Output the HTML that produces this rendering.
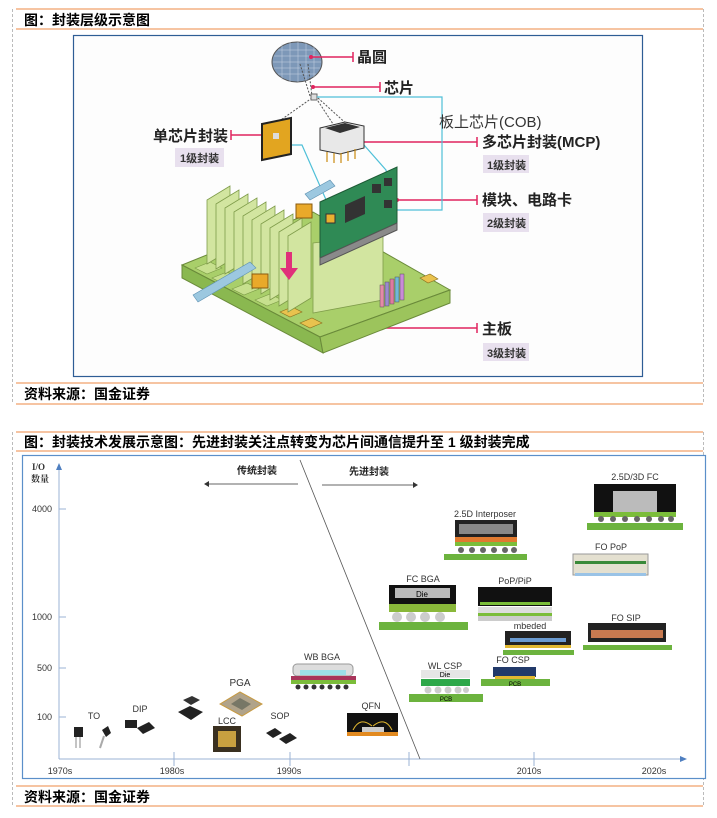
<!DOCTYPE html>
<html><head><meta charset="utf-8"><style>
html,body{margin:0;padding:0;background:#fff;}
svg{display:block;}
text{font-family:"Liberation Sans","Noto Sans CJK SC",sans-serif;}
.t{font-weight:bold;font-size:14px;fill:#000;}
.s{font-family:"Liberation Serif","Noto Serif CJK SC",serif;font-size:9px;fill:#333;}
.lb{font-weight:bold;font-size:15px;fill:#222;}
.bd{font-weight:bold;font-size:11px;fill:#333;}
</style></head><body>
<svg width="717" height="818" viewBox="0 0 717 818" xmlns="http://www.w3.org/2000/svg">
<!-- frame 1 -->
<line x1="12.5" y1="9" x2="12.5" y2="404" stroke="#bbb" stroke-dasharray="3,2"/>
<line x1="703.5" y1="9" x2="703.5" y2="404" stroke="#bbb" stroke-dasharray="3,2"/>
<line x1="16" y1="9" x2="703" y2="9" stroke="#f4b183" stroke-width="1.5"/>
<line x1="16" y1="29" x2="703" y2="29" stroke="#f4b183" stroke-width="1.5"/>
<text x="24" y="25" class="t">图：封装层级示意图</text>
<rect x="73.5" y="35.5" width="569" height="341" fill="#fdfdfd" stroke="#2e5d95" stroke-width="1.2"/>
<line x1="16" y1="383" x2="703" y2="383" stroke="#f4b183" stroke-width="1.5"/>
<line x1="16" y1="404" x2="703" y2="404" stroke="#f4b183" stroke-width="1.5"/>
<text x="24" y="399" class="t">资料来源：国金证券</text>

<!-- wafer -->
<ellipse cx="297" cy="62" rx="25" ry="20" fill="#7d98b8" stroke="#555"/>
<g stroke="#c8d4e4" stroke-width="0.5">
<line x1="278" y1="50" x2="316" y2="50"/><line x1="274" y1="56" x2="320" y2="56"/><line x1="273" y1="62" x2="321" y2="62"/><line x1="274" y1="68" x2="320" y2="68"/><line x1="278" y1="74" x2="316" y2="74"/>
<line x1="282" y1="44" x2="282" y2="80"/><line x1="290" y1="42" x2="290" y2="82"/><line x1="298" y1="42" x2="298" y2="82"/><line x1="306" y1="42" x2="306" y2="82"/><line x1="314" y1="46" x2="314" y2="78"/>
</g>
<g stroke="#e0245e" stroke-width="1.5" fill="none">
<line x1="311" y1="57" x2="353" y2="57"/><line x1="353" y1="52" x2="353" y2="62"/>
<line x1="313" y1="87" x2="380" y2="87"/><line x1="380" y1="82" x2="380" y2="92"/>
<line x1="231" y1="135" x2="264" y2="135"/><line x1="231" y1="130" x2="231" y2="140"/>
<line x1="360" y1="142" x2="477" y2="142"/><line x1="477" y1="137" x2="477" y2="147"/>
<line x1="397" y1="200" x2="477" y2="200"/><line x1="477" y1="195" x2="477" y2="205"/>
<line x1="364" y1="328" x2="477" y2="328"/><line x1="477" y1="323" x2="477" y2="333"/>
</g>
<g fill="#e0245e"><circle cx="311" cy="57" r="2"/><circle cx="313" cy="87" r="2"/><circle cx="360" cy="142" r="2"/><circle cx="397" cy="200" r="2"/><circle cx="364" cy="328" r="2"/></g>
<g stroke="#555" stroke-dasharray="2,1.5" fill="none">
<line x1="308" y1="64" x2="312" y2="96"/><line x1="300" y1="64" x2="310" y2="96"/>
<line x1="312" y1="98" x2="278" y2="122"/><line x1="316" y1="98" x2="335" y2="127"/><line x1="318" y1="98" x2="350" y2="127"/>
</g>
<rect x="311" y="94" width="6" height="6" fill="#ddd" stroke="#666"/>
<polyline points="317,97 442,97 442,210 397,210" fill="none" stroke="#4fc0d8" stroke-width="1.2"/>
<polyline points="289,145 302,145 327,202" fill="none" stroke="#4fc0d8" stroke-width="1.2"/>
<polyline points="364,145 386,170 388,180" fill="none" stroke="#4fc0d8" stroke-width="1.2"/>

<!-- motherboard -->
<polygon points="182,265 313,212 450,290 320,337" fill="#a9cf6a" stroke="#6a8a3a"/>
<polygon points="182,265 320,337 323,353 182,278" fill="#8ab850" stroke="#6a8a3a"/>
<polygon points="320,337 450,290 450,303 323,353" fill="#9cc45c" stroke="#6a8a3a"/>
<g fill="#c7e08e" stroke="#7a9a45" stroke-width="0.6">
<polygon points="195,268 210,262 222,268 207,274"/><polygon points="212,278 227,272 239,278 224,284"/><polygon points="232,289 247,283 259,289 244,295"/><polygon points="255,300 270,294 282,300 267,306"/>
</g>
<g fill="#e9c24e" stroke="#8a6d1c" stroke-width="0.6"><polygon points="280,312 292,307 302,312 290,317"/><polygon points="300,323 312,318 322,323 310,328"/><polygon points="420,278 430,274 438,279 428,283"/></g>
<!-- fins -->
<g fill="#d2e5a0" stroke="#7f9c4a" stroke-width="0.8">
<polygon points="207,200 230,186 230,250 207,264"/>
<polygon points="216,204 239,190 239,255 216,269"/>
<polygon points="225,208 248,194 248,260 225,274"/>
<polygon points="234,212 257,198 257,265 234,279"/>
<polygon points="243,216 266,202 266,270 243,284"/>
<polygon points="252,220 275,206 275,275 252,289"/>
<polygon points="261,224 284,210 284,280 261,294"/>
<polygon points="270,228 293,214 293,286 270,300"/>
<polygon points="279,232 302,218 302,292 279,306"/>
<polygon points="288,236 311,222 311,298 288,312"/>
<polygon points="313,243 383,235 383,300 313,313"/>
</g>
<polygon points="193,295 250,262 256,268 198,302" fill="#9cc8e0" stroke="#5b8fb0" stroke-width="0.6"/>
<rect x="252" y="274" width="16" height="14" fill="#e9a92a" stroke="#8a5a10"/>
<rect x="296" y="204" width="16" height="14" fill="#e9a92a" stroke="#8a5a10"/>
<polygon points="305,194 330,180 335,186 310,200" fill="#9cc8e0" stroke="#5b8fb0" stroke-width="0.6"/>
<!-- capacitors -->
<g stroke="#555" stroke-width="0.5"><rect x="380" y="285" width="4" height="22" fill="#e58aa8"/><rect x="385" y="282" width="4" height="24" fill="#9b8ad0"/><rect x="390" y="279" width="4" height="25" fill="#e07aa0"/><rect x="395" y="277" width="4" height="25" fill="#6fb9d8"/><rect x="400" y="274" width="4" height="26" fill="#c98ad8"/></g>
<!-- pink arrow -->
<rect x="286" y="252" width="6" height="18" fill="#e0307a"/><polygon points="280,268 298,268 289,280" fill="#e0307a"/>
<!-- PCB card -->
<polygon points="320,202 397,167 397,223 320,258" fill="#2f8a55" stroke="#1d5a35"/>
<polygon points="320,258 397,223 397,230 320,265" fill="#8a8a8a" stroke="#555"/>
<polygon points="345,205 365,196 365,214 345,223" fill="#333"/>
<rect x="372" y="184" width="9" height="9" fill="#333"/><rect x="384" y="178" width="8" height="8" fill="#333"/><rect x="384" y="200" width="8" height="8" fill="#333"/>
<rect x="326" y="214" width="9" height="9" fill="#e9b030" stroke="#333"/>
<!-- single chip -->
<polygon points="262,124 291,118 291,154 262,160" fill="#e2a520" stroke="#222" stroke-width="2"/>
<rect x="273" y="133" width="6" height="6" fill="#ddd"/>
<!-- MCP -->
<polygon points="320,128 345,122 364,126 364,148 340,154 320,150" fill="#e8e8e8" stroke="#333"/>
<polygon points="325,128 345,123 360,127 340,133" fill="#333"/>
<g stroke="#c98a10" stroke-width="1.2"><line x1="327" y1="152" x2="327" y2="162"/><line x1="334" y1="153" x2="334" y2="163"/><line x1="341" y1="153" x2="341" y2="163"/><line x1="348" y1="151" x2="348" y2="161"/><line x1="355" y1="149" x2="355" y2="159"/></g>

<!-- labels -->
<text x="357" y="62" class="lb">晶圆</text>
<text x="384" y="93" class="lb">芯片</text>
<text x="439" y="127" font-size="15" fill="#333">板上芯片(COB)</text>
<text x="153" y="141" class="lb">单芯片封装</text>
<rect x="175" y="148" width="49" height="19" fill="#e8e0ee"/><text x="180" y="162" class="bd">1级封装</text>
<text x="482" y="147" class="lb">多芯片封装(MCP)</text>
<rect x="483" y="155" width="46" height="18" fill="#e8e0ee"/><text x="487" y="169" class="bd">1级封装</text>
<text x="482" y="205" class="lb">模块、电路卡</text>
<rect x="483" y="213" width="46" height="19" fill="#e8e0ee"/><text x="487" y="227" class="bd">2级封装</text>
<text x="482" y="334" class="lb">主板</text>
<rect x="483" y="343" width="46" height="18" fill="#e8e0ee"/><text x="487" y="357" class="bd">3级封装</text>

<!-- frame 2 -->
<line x1="12.5" y1="432" x2="12.5" y2="806" stroke="#bbb" stroke-dasharray="3,2"/>
<line x1="703.5" y1="432" x2="703.5" y2="806" stroke="#bbb" stroke-dasharray="3,2"/>
<line x1="16" y1="432" x2="703" y2="432" stroke="#f4b183" stroke-width="1.5"/>
<line x1="16" y1="451" x2="703" y2="451" stroke="#f4b183" stroke-width="1.5"/>
<text x="24" y="447" class="t">图：封装技术发展示意图：先进封装关注点转变为芯片间通信提升至 1 级封装完成</text>
<rect x="22.5" y="455.5" width="683" height="323" fill="#fff" stroke="#5b8fc9" stroke-width="1.2"/>
<line x1="16" y1="786" x2="703" y2="786" stroke="#f4b183" stroke-width="1.5"/>
<line x1="16" y1="806" x2="703" y2="806" stroke="#f4b183" stroke-width="1.5"/>
<text x="24" y="802" class="t">资料来源：国金证券</text>

<!-- axes -->
<g stroke="#9bb3d6" stroke-width="1">
<line x1="59" y1="468" x2="59" y2="759"/><line x1="59" y1="759" x2="681" y2="759"/>
<line x1="59" y1="509" x2="66" y2="509"/><line x1="59" y1="617" x2="66" y2="617"/><line x1="59" y1="668" x2="66" y2="668"/><line x1="59" y1="717" x2="66" y2="717"/>
<line x1="174" y1="752" x2="174" y2="766"/><line x1="290" y1="752" x2="290" y2="766"/><line x1="409" y1="752" x2="409" y2="766"/><line x1="534" y1="752" x2="534" y2="766"/>
</g>
<polygon points="56,470 62,470 59,463" fill="#4f7fc0"/><polygon points="680,756 680,762 687,759" fill="#4f7fc0"/>
<text x="32" y="470" class="s" font-weight="bold">I/O</text><text x="31" y="482" class="s" font-weight="bold">数量</text>
<g class="s" text-anchor="end"><text x="52" y="512">4000</text><text x="52" y="620">1000</text><text x="52" y="671">500</text><text x="52" y="720">100</text></g>
<g class="s" text-anchor="middle"><text x="60" y="774">1970s</text><text x="172" y="774">1980s</text><text x="289" y="774">1990s</text><text x="529" y="774">2010s</text><text x="654" y="774">2020s</text></g>
<line x1="300" y1="460" x2="420" y2="759" stroke="#555" stroke-width="0.8"/>
<text x="257" y="474" font-size="10" font-weight="bold" text-anchor="middle" fill="#222">传统封装</text>
<text x="369" y="475" font-size="10" font-weight="bold" text-anchor="middle" fill="#222">先进封装</text>
<line x1="298" y1="484" x2="207" y2="484" stroke="#666"/><polygon points="204,484 209,481 209,487" fill="#333"/>
<line x1="322" y1="485" x2="414" y2="485" stroke="#666"/><polygon points="418,485 413,482 413,488" fill="#333"/>

<!-- packages -->
<g class="s" text-anchor="middle">
<text x="635" y="480">2.5D/3D FC</text><text x="485" y="517">2.5D Interposer</text><text x="611" y="550">FO PoP</text>
<text x="423" y="582">FC BGA</text><text x="515" y="584">PoP/PiP</text><text x="530" y="629">mbeded</text><text x="626" y="621">FO SIP</text>
<text x="513" y="663">FO CSP</text><text x="445" y="669">WL CSP</text><text x="322" y="660">WB BGA</text><text x="371" y="709">QFN</text>
<text x="94" y="719">TO</text><text x="140" y="712">DIP</text><text x="227" y="724">LCC</text><text x="280" y="719">SOP</text>
</g>
<text x="240" y="686" font-size="10" text-anchor="middle" fill="#333">PGA</text>
<!-- 2.5D/3D FC -->
<rect x="594" y="484" width="82" height="28" fill="#111"/><rect x="613" y="491" width="44" height="21" fill="#bbb"/>
<rect x="594" y="512" width="82" height="5" fill="#7bbd3a"/><g fill="#666"><circle cx="601" cy="519" r="3"/><circle cx="613" cy="519" r="3"/><circle cx="625" cy="519" r="3"/><circle cx="637" cy="519" r="3"/><circle cx="649" cy="519" r="3"/><circle cx="661" cy="519" r="3"/><circle cx="671" cy="519" r="3"/></g>
<rect x="587" y="523" width="96" height="7" fill="#6cb33e"/>
<!-- Interposer -->
<rect x="455" y="520" width="62" height="22" fill="#222"/><rect x="459" y="524" width="54" height="10" fill="#888"/><rect x="455" y="537" width="62" height="5" fill="#e07a30"/><rect x="455" y="542" width="62" height="4" fill="#7bbd3a"/>
<g fill="#666"><circle cx="461" cy="550" r="3"/><circle cx="472" cy="550" r="3"/><circle cx="483" cy="550" r="3"/><circle cx="494" cy="550" r="3"/><circle cx="505" cy="550" r="3"/><circle cx="514" cy="550" r="3"/></g>
<rect x="444" y="554" width="83" height="6" fill="#6cb33e"/>
<!-- FO PoP -->
<rect x="573" y="554" width="75" height="21" fill="#e4e0d0" stroke="#999"/><rect x="575" y="561" width="71" height="3" fill="#3a8a3a"/><g fill="#9ac3e6"><rect x="575" y="573" width="71" height="3"/></g>
<!-- FC BGA -->
<rect x="389" y="585" width="67" height="27" fill="#111"/><rect x="395" y="588" width="55" height="10" fill="#bbb"/><text x="422" y="597" font-size="8" text-anchor="middle">Die</text><rect x="389" y="604" width="67" height="8" fill="#8ab83a"/>
<g fill="#ccc"><circle cx="397" cy="617" r="5"/><circle cx="411" cy="617" r="5"/><circle cx="425" cy="617" r="5"/><circle cx="440" cy="617" r="5"/></g>
<rect x="379" y="622" width="89" height="8" fill="#6cb33e"/>
<!-- PoP/PiP -->
<rect x="478" y="587" width="74" height="19" fill="#111"/><rect x="480" y="602" width="70" height="3" fill="#7bbd3a"/><rect x="478" y="607" width="74" height="9" fill="#ddd"/><rect x="478" y="613" width="74" height="3" fill="#7bbd3a"/><g fill="#ccc"><rect x="478" y="616" width="74" height="5"/></g>
<!-- mbeded -->
<rect x="505" y="631" width="66" height="17" fill="#222"/><rect x="510" y="638" width="56" height="4" fill="#6a9ad0"/><rect x="505" y="645" width="66" height="3" fill="#e2b830"/><rect x="503" y="650" width="71" height="5" fill="#6cb33e"/>
<!-- FO SIP -->
<rect x="588" y="623" width="78" height="19" fill="#222"/><rect x="591" y="630" width="72" height="8" fill="#c87a50"/><rect x="583" y="645" width="89" height="5" fill="#6cb33e"/>
<!-- FO CSP -->
<rect x="493" y="667" width="43" height="10" fill="#223a6a"/><rect x="495" y="676" width="40" height="3" fill="#e2b830"/><rect x="481" y="679" width="69" height="7" fill="#6cb33e"/><text x="515" y="686" font-size="6" text-anchor="middle">PCB</text>
<!-- WL CSP -->
<rect x="421" y="670" width="49" height="8" fill="#e6e6e6"/><text x="445" y="677" font-size="7" text-anchor="middle">Die</text><rect x="421" y="679" width="49" height="7" fill="#2ea84a"/><g fill="#ccc"><circle cx="428" cy="690" r="3.5"/><circle cx="438" cy="690" r="3.5"/><circle cx="448" cy="690" r="3.5"/><circle cx="458" cy="690" r="3.5"/><circle cx="466" cy="690" r="3"/></g>
<rect x="409" y="694" width="74" height="8" fill="#6cb33e"/><text x="446" y="701" font-size="6" text-anchor="middle">PCB</text>
<!-- WB BGA -->
<rect x="293" y="664" width="60" height="12" rx="4" fill="#ddd" stroke="#999"/><rect x="300" y="670" width="46" height="5" fill="#9ce0e8"/><rect x="291" y="676" width="65" height="6" fill="#a8345a"/><rect x="291" y="680" width="65" height="4" fill="#7bbd3a"/>
<g fill="#333"><circle cx="298" cy="687" r="2.5"/><circle cx="306" cy="687" r="2.5"/><circle cx="314" cy="687" r="2.5"/><circle cx="322" cy="687" r="2.5"/><circle cx="330" cy="687" r="2.5"/><circle cx="338" cy="687" r="2.5"/><circle cx="346" cy="687" r="2.5"/></g>
<!-- QFN -->
<rect x="347" y="713" width="51" height="23" fill="#111"/><path d="M353,730 Q360,716 372,726 M373,726 Q385,716 392,730" stroke="#e2b830" fill="none"/><rect x="362" y="727" width="22" height="5" fill="#ccc"/><rect x="347" y="732" width="51" height="4" fill="#e28a20"/>
<!-- PGA -->
<polygon points="220,704 240,692 262,704 242,716" fill="#b0a38a" stroke="#c89a40"/><polygon points="231,704 240,698 251,704 242,710" fill="#776"/>
<!-- QFP -->
<polygon points="178,712 190,706 203,712 191,720" fill="#222"/><polygon points="183,700 192,696 200,700 191,705" fill="#333"/>
<!-- LCC -->
<rect x="213" y="726" width="28" height="26" fill="#3a3020"/><rect x="218" y="731" width="18" height="16" fill="#c8a040"/>
<!-- SOP -->
<polygon points="266,733 275,728 282,733 273,738" fill="#222"/><polygon points="279,739 290,733 297,738 286,744" fill="#222"/>
<!-- DIP -->
<rect x="125" y="720" width="12" height="8" fill="#222"/><polygon points="137,728 149,722 155,728 143,734" fill="#222"/>
<!-- TO -->
<rect x="74" y="727" width="9" height="10" fill="#222"/><line x1="76" y1="737" x2="76" y2="748" stroke="#888"/><line x1="80" y1="737" x2="80" y2="748" stroke="#888"/>
<polygon points="102,730 108,726 111,733 106,737" fill="#222"/><line x1="104" y1="736" x2="100" y2="748" stroke="#aaa" stroke-width="2"/>
</svg>
</body></html>
